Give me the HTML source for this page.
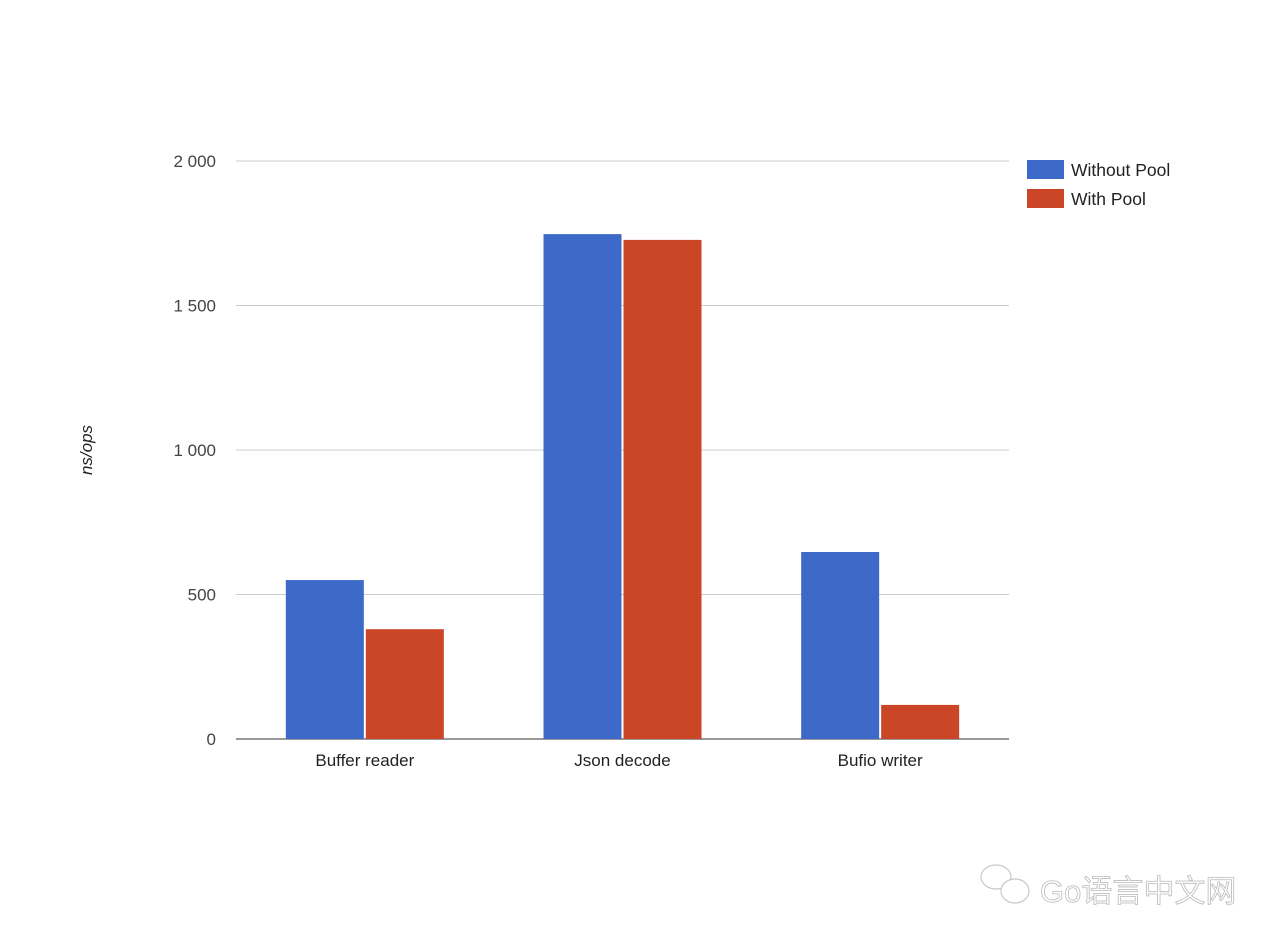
<!DOCTYPE html>
<html><head><meta charset="utf-8"><style>
html,body{margin:0;padding:0;background:#fff;}
svg{display:block;font-family:"Liberation Sans",Arial,sans-serif;}
</style></head><body>
<svg id="chart" width="1280" height="948" viewBox="0 0 1280 948">
<g id="grid"></g><g id="bars"></g><g id="labels"></g>
<text x="92" y="450" transform="rotate(-90 92 450)" text-anchor="middle" font-size="17" font-style="italic" fill="#222">ns/ops</text>
<g>
<rect x="1027" y="160" width="37" height="19" fill="#3d69c8"/>
<text x="1071" y="176" font-size="17.5" fill="#222">Without Pool</text>
<rect x="1027" y="189" width="37" height="19" fill="#cb4627"/>
<text x="1071" y="205" font-size="17.5" fill="#222">With Pool</text>
</g>
<g opacity="0.8">
<g fill="none" stroke="#bbb" stroke-width="1.2">
<ellipse cx="996" cy="877" rx="15" ry="12"/><ellipse cx="1015" cy="891" rx="14" ry="12" fill="#fff"/>
</g>
<text x="1040" y="902" font-size="31" fill="#fff" stroke="#aaa" stroke-width="0.8" font-family="'Liberation Sans','Noto Sans CJK SC',sans-serif">Go语言中文网</text>
</g>
</svg>
<script>
const categories = ["Buffer reader", "Json decode", "Bufio writer"];
const withoutPool = [550, 1747, 647];
const withPool = [380, 1727, 118];
const yTicks = [0, 500, 1000, 1500, 2000];
const yTickLabels = ["0", "500", "1 000", "1 500", "2 000"];
const NS = "http://www.w3.org/2000/svg";
const x0 = 236, x1 = 1009, yBase = 739, yTop = 161, yMax = 2000;
const y = v => yBase - (v / yMax) * (yBase - yTop);
const groupW = (x1 - x0) / categories.length;
const barW = 78;
function mk(tag, attrs, parent){const e=document.createElementNS(NS,tag);for(const k in attrs)e.setAttribute(k,attrs[k]);parent.appendChild(e);return e;}
const grid = document.getElementById('grid'), bars = document.getElementById('bars'), labels = document.getElementById('labels');
yTicks.forEach((t,i)=>{
  const l = mk('line',{x1:x0,x2:x1,y1:y(t),y2:y(t),stroke:t===0?'#333':'#ccc','stroke-width':1},grid);
  
  
  const tx = mk('text',{x:216,y:y(t)+6,'text-anchor':'end','font-size':17,fill:'#444'},labels);
  tx.textContent = yTickLabels[i];
  
  
});
categories.forEach((c,i)=>{
  const cx = x0 + groupW*(i+0.5);
  const b1 = mk('rect',{x:cx-barW-1,y:y(withoutPool[i]),width:barW,height:yBase-y(withoutPool[i]),fill:'#3d69c8'},bars);
  
  
  const b2 = mk('rect',{x:cx+1,y:y(withPool[i]),width:barW,height:yBase-y(withPool[i]),fill:'#cb4627'},bars);
  
  
  const t = mk('text',{x:cx,y:766,'text-anchor':'middle','font-size':17,fill:'#222'},labels);
  t.textContent = c;
  
  
});
</script>
</body></html>
